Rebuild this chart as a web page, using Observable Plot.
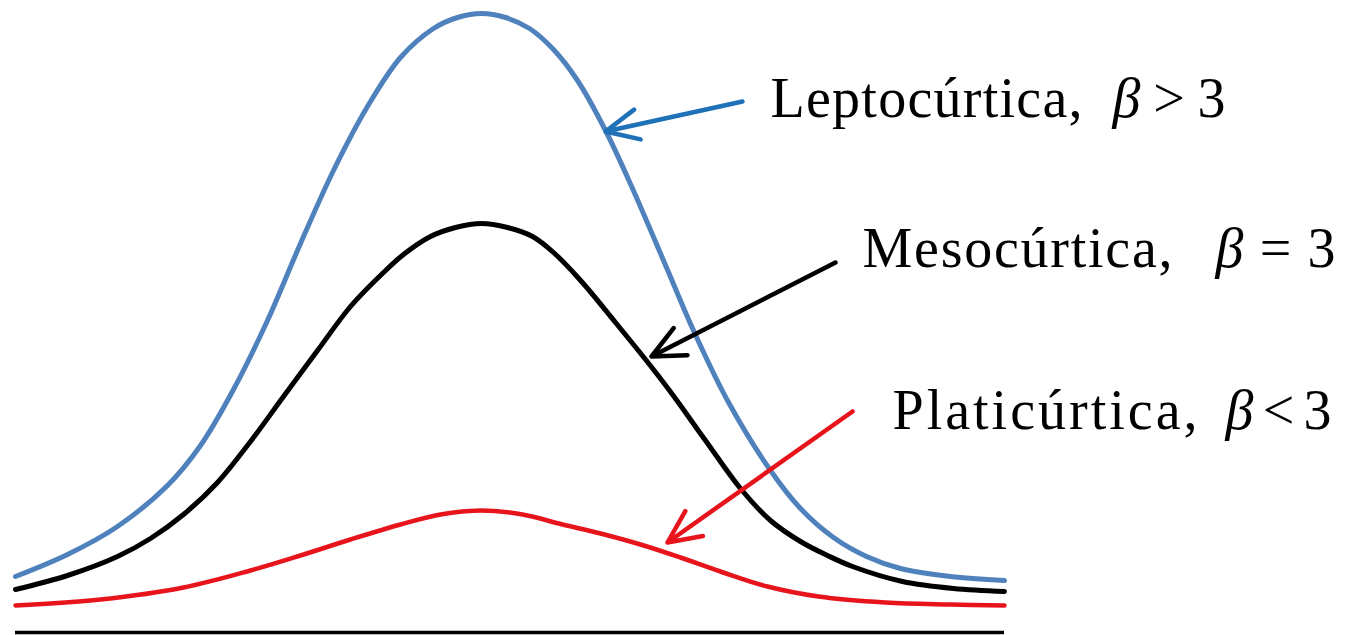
<!DOCTYPE html>
<html>
<head>
<meta charset="utf-8">
<script src="https://cdn.jsdelivr.net/npm/d3@7"></script>
<script src="https://cdn.jsdelivr.net/npm/@observablehq/plot@0.6"></script>
<style>
  html, body { margin: 0; padding: 0; background: #fff; overflow: hidden; }
  #chart svg { display: block; background: #fff; }
</style>
</head>
<body>
<div id="chart"></div>
<script>
// ---- Data (x: position along the variable axis, y: curve height) ----
const leptoX = [-4.66, -4.14, -3.64, -3.14, -2.81, -2.48, -2.14, -1.81, -1.48, -1.14, -0.81, -0.48, -0.24, 0, 0.24, 0.48, 0.72, 0.96, 1.24, 1.51, 1.85, 2.12, 2.46, 2.89, 3.19, 3.52, 3.85, 4.19, 4.69, 5.23];
const leptoY = [0.56, 0.78, 1.06, 1.47, 1.87, 2.43, 3.12, 3.89, 4.62, 5.26, 5.75, 6.04, 6.15, 6.19, 6.15, 6.04, 5.83, 5.52, 5.02, 4.44, 3.65, 3.02, 2.32, 1.62, 1.24, 0.95, 0.76, 0.64, 0.56, 0.52];

const mesoX = [-4.66, -4.14, -3.64, -3.31, -2.98, -2.64, -2.31, -1.98, -1.64, -1.31, -0.98, -0.78, -0.51, -0.26, 0, 0.26, 0.51, 0.72, 1.00, 1.34, 1.68, 1.91, 2.24, 2.59, 2.89, 3.19, 3.46, 3.71, 4.21, 4.72, 5.23];
const mesoY = [0.43, 0.57, 0.76, 0.94, 1.18, 1.50, 1.91, 2.36, 2.82, 3.26, 3.60, 3.78, 3.96, 4.05, 4.09, 4.05, 3.96, 3.80, 3.51, 3.10, 2.68, 2.38, 1.92, 1.44, 1.12, 0.91, 0.77, 0.66, 0.51, 0.44, 0.41];

const platiX = [-4.66, -3.81, -2.98, -2.31, -1.81, -1.31, -0.81, -0.41, 0, 0.41, 0.81, 1.19, 1.59, 1.99, 2.39, 2.86, 3.37, 4.04, 4.69, 5.23];
const platiY = [0.27, 0.33, 0.45, 0.62, 0.77, 0.93, 1.08, 1.18, 1.22, 1.18, 1.08, 0.99, 0.88, 0.75, 0.61, 0.46, 0.36, 0.30, 0.28, 0.27];

// ---- Annotations ----
const labelNames    = ["Leptocúrtica,", "Mesocúrtica,", "Platicúrtica,"];
const labelFormulas = ["β > 3", "β = 3", "β < 3"];
const labelNameX    = [2.89, 3.81, 4.11];
const labelFormulaX = [6.31, 7.34, 7.44];
const labelY        = [5.33, 3.83, 2.21];
const arrowX1 = [2.61, 3.54, 3.71];
const arrowY1 = [5.31, 3.70, 2.21];
const arrowX2 = [1.24, 1.70, 1.86];
const arrowY2 = [5.01, 2.76, 0.90];

// ---- Styles ----
const curveColors = ["#4f81bd", "#000000", "#e8141c"];
const arrowColors = ["#1f72b8", "#000000", "#e8141c"];
const nameWidths = [312, 310, 305];
const formulaWidths = [113, 120, 106];
const fontSize = 56;

const rows = (X, Y) => X.map((x, i) => ({x, y: Y[i]}));
const lepto = rows(leptoX, leptoY);
const meso = rows(mesoX, mesoY);
const plati = rows(platiX, platiY);
const labels = labelNames.map((name, i) => ({
  name, formula: labelFormulas[i], nx: labelNameX[i], fx: labelFormulaX[i], y: labelY[i]
}));
const arrows = arrowX1.map((x1, i) => ({
  x1, y1: arrowY1[i], x2: arrowX2[i], y2: arrowY2[i], c: arrowColors[i]
}));
const allX = [...leptoX, ...mesoX, ...platiX];

const chart = Plot.plot({
  width: 1345,
  height: 635,
  margin: 0,
  x: {domain: [-4.81, 8.64], axis: null},
  y: {domain: [-0.03, 6.32], axis: null},
  style: {background: "#fff"},
  marks: [
    Plot.ruleY([0], {x1: d3.min(allX), x2: d3.max(allX), stroke: "#000", strokeWidth: 3.5}),
    Plot.line(plati, {x: "x", y: "y", stroke: curveColors[2], strokeWidth: 4.5, curve: "catmull-rom"}),
    Plot.line(meso, {x: "x", y: "y", stroke: curveColors[1], strokeWidth: 5, curve: "catmull-rom"}),
    Plot.line(lepto, {x: "x", y: "y", stroke: curveColors[0], strokeWidth: 5, curve: "catmull-rom"}),
    Plot.arrow(arrows, {x1: "x1", y1: "y1", x2: "x2", y2: "y2", stroke: d => d.c, strokeWidth: 4.5, headLength: 12, headAngle: 50}),
    Plot.text(labels, {x: "nx", y: "y", text: "name", textAnchor: "start", lineAnchor: "middle",
      fontFamily: "Liberation Serif", fontSize, fill: "#000"}),
    Plot.text(labels, {x: "fx", y: "y", text: "formula", textAnchor: "start", lineAnchor: "middle",
      fontFamily: "Liberation Serif", fontSize, fill: "#000"})
  ]
});

// Fit label widths and italicise β
const groups = chart.querySelectorAll('g[aria-label="text"]');
if (groups.length >= 2) {
  groups[0].querySelectorAll("text").forEach((t, i) => {
    t.setAttribute("textLength", nameWidths[i]);
    t.setAttribute("lengthAdjust", "spacing");
  });
  groups[1].querySelectorAll("text").forEach((t, i) => {
    const s = t.textContent;
    const rest = s.slice(1);
    t.textContent = "";
    const b = document.createElementNS("http://www.w3.org/2000/svg", "tspan");
    b.setAttribute("font-style", "italic");
    b.textContent = s[0];
    const r = document.createElementNS("http://www.w3.org/2000/svg", "tspan");
    r.textContent = rest;
    t.appendChild(b);
    t.appendChild(r);
    t.setAttribute("xml:space", "preserve");
    t.style.whiteSpace = "pre";
    t.setAttribute("textLength", formulaWidths[i]);
    t.setAttribute("lengthAdjust", "spacing");
  });
}

document.getElementById("chart").appendChild(chart);
</script>
</body>
</html>
